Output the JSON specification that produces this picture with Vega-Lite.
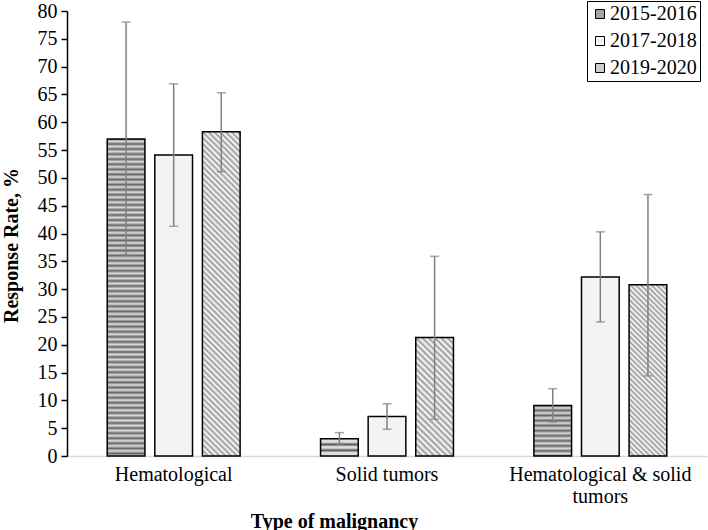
{
  "$schema": "https://vega.github.io/schema/vega-lite/v6.json",
  "autosize": "none",
  "width": 640,
  "height": 445,
  "padding": {"left": 67, "top": 11, "right": 1, "bottom": 74},
  "background": "white",
  "config": {
    "view": {"stroke": null},
    "font": "Liberation Serif"
  },
  "resolve": {"axis": {"y": "independent"}},
  "data": {
    "values": [
      {"type": "Hematological", "period": "2015-2016", "value": 57.0, "lo": 36.1, "hi": 78.0},
      {"type": "Hematological", "period": "2017-2018", "value": 54.1, "lo": 41.3, "hi": 66.9},
      {"type": "Hematological", "period": "2019-2020", "value": 58.3, "lo": 51.1, "hi": 65.3},
      {"type": "Solid tumors", "period": "2015-2016", "value": 3.1, "lo": 2.1, "hi": 4.2},
      {"type": "Solid tumors", "period": "2017-2018", "value": 7.1, "lo": 4.8, "hi": 9.4},
      {"type": "Solid tumors", "period": "2019-2020", "value": 21.3, "lo": 6.6, "hi": 35.9},
      {"type": "Hematological & solid tumors", "period": "2015-2016", "value": 9.1, "lo": 6.1, "hi": 12.1},
      {"type": "Hematological & solid tumors", "period": "2017-2018", "value": 32.2, "lo": 24.1, "hi": 40.3},
      {"type": "Hematological & solid tumors", "period": "2019-2020", "value": 30.8, "lo": 14.4, "hi": 47.0}
    ]
  },
  "encoding": {
    "x": {
      "field": "type",
      "type": "nominal",
      "sort": ["Hematological", "Solid tumors", "Hematological & solid tumors"],
      "scale": {"paddingInner": 0.377, "paddingOuter": 0.1885},
      "axis": {
        "title": "Type of malignancy",
        "titleFont": "Liberation Serif",
        "titleFontSize": 20,
        "titleFontWeight": "bold",
        "titleColor": "black",
        "titleX": 267,
        "titleY": 65,
        "titleAlign": "center",
        "titleBaseline": "middle",
        "labelAngle": 0,
        "labelFont": "Liberation Serif",
        "labelFontSize": 20,
        "labelColor": "black",
        "labelPadding": 8,
        "labelLineHeight": 22,
        "labelLimit": 400,
        "labelExpr": "datum.label == 'Hematological & solid tumors' ? ['Hematological & solid', 'tumors'] : datum.label",
        "ticks": false,
        "domainColor": "#d9d9d9",
        "domainWidth": 1.5
      }
    },
    "xOffset": {
      "field": "period",
      "type": "nominal",
      "scale": {"paddingInner": 0.208, "paddingOuter": 0}
    }
  },
  "layer": [
    {
      "mark": {"type": "bar", "stroke": "black", "strokeWidth": 1.5},
      "encoding": {
        "y": {
          "field": "value",
          "type": "quantitative",
          "scale": {"domain": [0, 80], "nice": false},
          "axis": {
            "title": "Response Rate, %",
            "titleFont": "Liberation Serif",
            "titleFontSize": 20,
            "titleFontWeight": "bold",
            "titleColor": "black",
            "titleX": -56,
            "titleY": 234,
            "titleAlign": "center",
            "titleBaseline": "middle",
            "titleAngle": -90,
            "values": [0, 5, 10, 15, 20, 25, 30, 35, 40, 45, 50, 55, 60, 65, 70, 75, 80],
            "labelOverlap": false,
            "labelFont": "Liberation Serif",
            "labelFontSize": 20,
            "labelColor": "black",
            "labelPadding": 4,
            "tickColor": "black",
            "tickSize": 6,
            "tickWidth": 1.5,
            "domainColor": "black",
            "domainWidth": 1.5,
            "grid": false
          }
        },
        "fill": {
          "condition": [
            {
              "test": "datum.period == '2015-2016' && datum.type == 'Hematological'",
              "value": {
                "gradient": "linear", "x1": 0, "y1": 0, "x2": 0, "y2": 1,
                "stops": [
                  {"offset": 0, "color": "#666"}, {"offset": 0.008, "color": "#ddd"}, {"offset": 0.016, "color": "#666"}, {"offset": 0.024, "color": "#ddd"}, {"offset": 0.032, "color": "#666"}, {"offset": 0.04, "color": "#ddd"}, {"offset": 0.048, "color": "#666"}, {"offset": 0.056, "color": "#ddd"}, {"offset": 0.064, "color": "#666"}, {"offset": 0.072, "color": "#ddd"},
                  {"offset": 0.08, "color": "#666"}, {"offset": 0.088, "color": "#ddd"}, {"offset": 0.096, "color": "#666"}, {"offset": 0.104, "color": "#ddd"}, {"offset": 0.112, "color": "#666"}, {"offset": 0.12, "color": "#ddd"}, {"offset": 0.128, "color": "#666"}, {"offset": 0.136, "color": "#ddd"}, {"offset": 0.144, "color": "#666"}, {"offset": 0.152, "color": "#ddd"},
                  {"offset": 0.16, "color": "#666"}, {"offset": 0.168, "color": "#ddd"}, {"offset": 0.176, "color": "#666"}, {"offset": 0.184, "color": "#ddd"}, {"offset": 0.192, "color": "#666"}, {"offset": 0.2, "color": "#ddd"}, {"offset": 0.208, "color": "#666"}, {"offset": 0.216, "color": "#ddd"}, {"offset": 0.224, "color": "#666"}, {"offset": 0.232, "color": "#ddd"},
                  {"offset": 0.24, "color": "#666"}, {"offset": 0.248, "color": "#ddd"}, {"offset": 0.256, "color": "#666"}, {"offset": 0.264, "color": "#ddd"}, {"offset": 0.272, "color": "#666"}, {"offset": 0.28, "color": "#ddd"}, {"offset": 0.288, "color": "#666"}, {"offset": 0.296, "color": "#ddd"}, {"offset": 0.304, "color": "#666"}, {"offset": 0.312, "color": "#ddd"},
                  {"offset": 0.32, "color": "#666"}, {"offset": 0.328, "color": "#ddd"}, {"offset": 0.336, "color": "#666"}, {"offset": 0.344, "color": "#ddd"}, {"offset": 0.352, "color": "#666"}, {"offset": 0.36, "color": "#ddd"}, {"offset": 0.368, "color": "#666"}, {"offset": 0.376, "color": "#ddd"}, {"offset": 0.384, "color": "#666"}, {"offset": 0.392, "color": "#ddd"},
                  {"offset": 0.4, "color": "#666"}, {"offset": 0.408, "color": "#ddd"}, {"offset": 0.416, "color": "#666"}, {"offset": 0.424, "color": "#ddd"}, {"offset": 0.432, "color": "#666"}, {"offset": 0.44, "color": "#ddd"}, {"offset": 0.448, "color": "#666"}, {"offset": 0.456, "color": "#ddd"}, {"offset": 0.464, "color": "#666"}, {"offset": 0.472, "color": "#ddd"},
                  {"offset": 0.48, "color": "#666"}, {"offset": 0.488, "color": "#ddd"}, {"offset": 0.496, "color": "#666"}, {"offset": 0.504, "color": "#ddd"}, {"offset": 0.512, "color": "#666"}, {"offset": 0.52, "color": "#ddd"}, {"offset": 0.528, "color": "#666"}, {"offset": 0.536, "color": "#ddd"}, {"offset": 0.544, "color": "#666"}, {"offset": 0.552, "color": "#ddd"},
                  {"offset": 0.56, "color": "#666"}, {"offset": 0.568, "color": "#ddd"}, {"offset": 0.576, "color": "#666"}, {"offset": 0.584, "color": "#ddd"}, {"offset": 0.592, "color": "#666"}, {"offset": 0.6, "color": "#ddd"}, {"offset": 0.608, "color": "#666"}, {"offset": 0.616, "color": "#ddd"}, {"offset": 0.624, "color": "#666"}, {"offset": 0.632, "color": "#ddd"},
                  {"offset": 0.64, "color": "#666"}, {"offset": 0.648, "color": "#ddd"}, {"offset": 0.656, "color": "#666"}, {"offset": 0.664, "color": "#ddd"}, {"offset": 0.672, "color": "#666"}, {"offset": 0.68, "color": "#ddd"}, {"offset": 0.688, "color": "#666"}, {"offset": 0.696, "color": "#ddd"}, {"offset": 0.704, "color": "#666"}, {"offset": 0.712, "color": "#ddd"},
                  {"offset": 0.72, "color": "#666"}, {"offset": 0.728, "color": "#ddd"}, {"offset": 0.736, "color": "#666"}, {"offset": 0.744, "color": "#ddd"}, {"offset": 0.752, "color": "#666"}, {"offset": 0.76, "color": "#ddd"}, {"offset": 0.768, "color": "#666"}, {"offset": 0.776, "color": "#ddd"}, {"offset": 0.784, "color": "#666"}, {"offset": 0.792, "color": "#ddd"},
                  {"offset": 0.8, "color": "#666"}, {"offset": 0.808, "color": "#ddd"}, {"offset": 0.816, "color": "#666"}, {"offset": 0.824, "color": "#ddd"}, {"offset": 0.832, "color": "#666"}, {"offset": 0.84, "color": "#ddd"}, {"offset": 0.848, "color": "#666"}, {"offset": 0.856, "color": "#ddd"}, {"offset": 0.864, "color": "#666"}, {"offset": 0.872, "color": "#ddd"},
                  {"offset": 0.88, "color": "#666"}, {"offset": 0.888, "color": "#ddd"}, {"offset": 0.896, "color": "#666"}, {"offset": 0.904, "color": "#ddd"}, {"offset": 0.912, "color": "#666"}, {"offset": 0.92, "color": "#ddd"}, {"offset": 0.928, "color": "#666"}, {"offset": 0.936, "color": "#ddd"}, {"offset": 0.944, "color": "#666"}, {"offset": 0.952, "color": "#ddd"},
                  {"offset": 0.96, "color": "#666"}, {"offset": 0.968, "color": "#ddd"}, {"offset": 0.976, "color": "#666"}, {"offset": 0.984, "color": "#ddd"}, {"offset": 0.992, "color": "#666"}, {"offset": 1, "color": "#ddd"}
                ]
              }
            },
            {
              "test": "datum.period == '2015-2016' && datum.type == 'Solid tumors'",
              "value": {
                "gradient": "linear", "x1": 0, "y1": 0, "x2": 0, "y2": 1,
                "stops": [
                  {"offset": 0, "color": "#ddd"}, {"offset": 0.2, "color": "#ddd"}, {"offset": 0.33, "color": "#555"}, {"offset": 0.46, "color": "#ddd"}, {"offset": 0.54, "color": "#ddd"}, {"offset": 0.67, "color": "#555"}, {"offset": 0.8, "color": "#ddd"}, {"offset": 1, "color": "#ddd"}
                ]
              }
            },
            {
              "test": "datum.period == '2015-2016' && datum.type == 'Hematological & solid tumors'",
              "value": {
                "gradient": "linear", "x1": 0, "y1": 0, "x2": 0, "y2": 1,
                "stops": [
                  {"offset": 0, "color": "#666"}, {"offset": 0.05, "color": "#ddd"}, {"offset": 0.1, "color": "#666"}, {"offset": 0.15, "color": "#ddd"}, {"offset": 0.2, "color": "#666"}, {"offset": 0.25, "color": "#ddd"}, {"offset": 0.3, "color": "#666"}, {"offset": 0.35, "color": "#ddd"}, {"offset": 0.4, "color": "#666"}, {"offset": 0.45, "color": "#ddd"},
                  {"offset": 0.5, "color": "#666"}, {"offset": 0.55, "color": "#ddd"}, {"offset": 0.6, "color": "#666"}, {"offset": 0.65, "color": "#ddd"}, {"offset": 0.7, "color": "#666"}, {"offset": 0.75, "color": "#ddd"}, {"offset": 0.8, "color": "#666"}, {"offset": 0.85, "color": "#ddd"}, {"offset": 0.9, "color": "#666"}, {"offset": 0.95, "color": "#ddd"},
                  {"offset": 1, "color": "#666"}
                ]
              }
            },
            {
              "test": "datum.period == '2019-2020' && datum.type == 'Hematological'",
              "value": {
                "gradient": "linear", "x1": 0, "y1": 1, "x2": 0.128, "y2": -0.101,
                "stops": [
                  {"offset": 0, "color": "#999"}, {"offset": 0.008, "color": "#fff"}, {"offset": 0.016, "color": "#999"}, {"offset": 0.024, "color": "#fff"}, {"offset": 0.032, "color": "#999"}, {"offset": 0.04, "color": "#fff"}, {"offset": 0.048, "color": "#999"}, {"offset": 0.056, "color": "#fff"}, {"offset": 0.064, "color": "#999"}, {"offset": 0.072, "color": "#fff"},
                  {"offset": 0.08, "color": "#999"}, {"offset": 0.088, "color": "#fff"}, {"offset": 0.096, "color": "#999"}, {"offset": 0.104, "color": "#fff"}, {"offset": 0.112, "color": "#999"}, {"offset": 0.12, "color": "#fff"}, {"offset": 0.128, "color": "#999"}, {"offset": 0.136, "color": "#fff"}, {"offset": 0.144, "color": "#999"}, {"offset": 0.152, "color": "#fff"},
                  {"offset": 0.16, "color": "#999"}, {"offset": 0.168, "color": "#fff"}, {"offset": 0.176, "color": "#999"}, {"offset": 0.184, "color": "#fff"}, {"offset": 0.192, "color": "#999"}, {"offset": 0.2, "color": "#fff"}, {"offset": 0.208, "color": "#999"}, {"offset": 0.216, "color": "#fff"}, {"offset": 0.224, "color": "#999"}, {"offset": 0.232, "color": "#fff"},
                  {"offset": 0.24, "color": "#999"}, {"offset": 0.248, "color": "#fff"}, {"offset": 0.256, "color": "#999"}, {"offset": 0.264, "color": "#fff"}, {"offset": 0.272, "color": "#999"}, {"offset": 0.28, "color": "#fff"}, {"offset": 0.288, "color": "#999"}, {"offset": 0.296, "color": "#fff"}, {"offset": 0.304, "color": "#999"}, {"offset": 0.312, "color": "#fff"},
                  {"offset": 0.32, "color": "#999"}, {"offset": 0.328, "color": "#fff"}, {"offset": 0.336, "color": "#999"}, {"offset": 0.344, "color": "#fff"}, {"offset": 0.352, "color": "#999"}, {"offset": 0.36, "color": "#fff"}, {"offset": 0.368, "color": "#999"}, {"offset": 0.376, "color": "#fff"}, {"offset": 0.384, "color": "#999"}, {"offset": 0.392, "color": "#fff"},
                  {"offset": 0.4, "color": "#999"}, {"offset": 0.408, "color": "#fff"}, {"offset": 0.416, "color": "#999"}, {"offset": 0.424, "color": "#fff"}, {"offset": 0.432, "color": "#999"}, {"offset": 0.44, "color": "#fff"}, {"offset": 0.448, "color": "#999"}, {"offset": 0.456, "color": "#fff"}, {"offset": 0.464, "color": "#999"}, {"offset": 0.472, "color": "#fff"},
                  {"offset": 0.48, "color": "#999"}, {"offset": 0.488, "color": "#fff"}, {"offset": 0.496, "color": "#999"}, {"offset": 0.504, "color": "#fff"}, {"offset": 0.512, "color": "#999"}, {"offset": 0.52, "color": "#fff"}, {"offset": 0.528, "color": "#999"}, {"offset": 0.536, "color": "#fff"}, {"offset": 0.544, "color": "#999"}, {"offset": 0.552, "color": "#fff"},
                  {"offset": 0.56, "color": "#999"}, {"offset": 0.568, "color": "#fff"}, {"offset": 0.576, "color": "#999"}, {"offset": 0.584, "color": "#fff"}, {"offset": 0.592, "color": "#999"}, {"offset": 0.6, "color": "#fff"}, {"offset": 0.608, "color": "#999"}, {"offset": 0.616, "color": "#fff"}, {"offset": 0.624, "color": "#999"}, {"offset": 0.632, "color": "#fff"},
                  {"offset": 0.64, "color": "#999"}, {"offset": 0.648, "color": "#fff"}, {"offset": 0.656, "color": "#999"}, {"offset": 0.664, "color": "#fff"}, {"offset": 0.672, "color": "#999"}, {"offset": 0.68, "color": "#fff"}, {"offset": 0.688, "color": "#999"}, {"offset": 0.696, "color": "#fff"}, {"offset": 0.704, "color": "#999"}, {"offset": 0.712, "color": "#fff"},
                  {"offset": 0.72, "color": "#999"}, {"offset": 0.728, "color": "#fff"}, {"offset": 0.736, "color": "#999"}, {"offset": 0.744, "color": "#fff"}, {"offset": 0.752, "color": "#999"}, {"offset": 0.76, "color": "#fff"}, {"offset": 0.768, "color": "#999"}, {"offset": 0.776, "color": "#fff"}, {"offset": 0.784, "color": "#999"}, {"offset": 0.792, "color": "#fff"},
                  {"offset": 0.8, "color": "#999"}, {"offset": 0.808, "color": "#fff"}, {"offset": 0.816, "color": "#999"}, {"offset": 0.824, "color": "#fff"}, {"offset": 0.832, "color": "#999"}, {"offset": 0.84, "color": "#fff"}, {"offset": 0.848, "color": "#999"}, {"offset": 0.856, "color": "#fff"}, {"offset": 0.864, "color": "#999"}, {"offset": 0.872, "color": "#fff"},
                  {"offset": 0.88, "color": "#999"}, {"offset": 0.888, "color": "#fff"}, {"offset": 0.896, "color": "#999"}, {"offset": 0.904, "color": "#fff"}, {"offset": 0.912, "color": "#999"}, {"offset": 0.92, "color": "#fff"}, {"offset": 0.928, "color": "#999"}, {"offset": 0.936, "color": "#fff"}, {"offset": 0.944, "color": "#999"}, {"offset": 0.952, "color": "#fff"},
                  {"offset": 0.96, "color": "#999"}, {"offset": 0.968, "color": "#fff"}, {"offset": 0.976, "color": "#999"}, {"offset": 0.984, "color": "#fff"}, {"offset": 0.992, "color": "#999"}, {"offset": 1, "color": "#fff"}
                ]
              }
            },
            {
              "test": "datum.period == '2019-2020' && datum.type == 'Solid tumors'",
              "value": {
                "gradient": "linear", "x1": 0, "y1": 1, "x2": 0.378, "y2": -0.196,
                "stops": [
                  {"offset": 0, "color": "#999"}, {"offset": 0.02, "color": "#fff"}, {"offset": 0.04, "color": "#999"}, {"offset": 0.06, "color": "#fff"}, {"offset": 0.08, "color": "#999"}, {"offset": 0.1, "color": "#fff"}, {"offset": 0.12, "color": "#999"}, {"offset": 0.14, "color": "#fff"}, {"offset": 0.16, "color": "#999"}, {"offset": 0.18, "color": "#fff"},
                  {"offset": 0.2, "color": "#999"}, {"offset": 0.22, "color": "#fff"}, {"offset": 0.24, "color": "#999"}, {"offset": 0.26, "color": "#fff"}, {"offset": 0.28, "color": "#999"}, {"offset": 0.3, "color": "#fff"}, {"offset": 0.32, "color": "#999"}, {"offset": 0.34, "color": "#fff"}, {"offset": 0.36, "color": "#999"}, {"offset": 0.38, "color": "#fff"},
                  {"offset": 0.4, "color": "#999"}, {"offset": 0.42, "color": "#fff"}, {"offset": 0.44, "color": "#999"}, {"offset": 0.46, "color": "#fff"}, {"offset": 0.48, "color": "#999"}, {"offset": 0.5, "color": "#fff"}, {"offset": 0.52, "color": "#999"}, {"offset": 0.54, "color": "#fff"}, {"offset": 0.56, "color": "#999"}, {"offset": 0.58, "color": "#fff"},
                  {"offset": 0.6, "color": "#999"}, {"offset": 0.62, "color": "#fff"}, {"offset": 0.64, "color": "#999"}, {"offset": 0.66, "color": "#fff"}, {"offset": 0.68, "color": "#999"}, {"offset": 0.7, "color": "#fff"}, {"offset": 0.72, "color": "#999"}, {"offset": 0.74, "color": "#fff"}, {"offset": 0.76, "color": "#999"}, {"offset": 0.78, "color": "#fff"},
                  {"offset": 0.8, "color": "#999"}, {"offset": 0.82, "color": "#fff"}, {"offset": 0.84, "color": "#999"}, {"offset": 0.86, "color": "#fff"}, {"offset": 0.88, "color": "#999"}, {"offset": 0.9, "color": "#fff"}, {"offset": 0.92, "color": "#999"}, {"offset": 0.94, "color": "#fff"}, {"offset": 0.96, "color": "#999"}, {"offset": 0.98, "color": "#fff"},
                  {"offset": 1, "color": "#999"}
                ]
              }
            },
            {
              "test": "datum.period == '2019-2020' && datum.type == 'Hematological & solid tumors'",
              "value": {
                "gradient": "linear", "x1": 0, "y1": 1, "x2": 0.254, "y2": -0.163,
                "stops": [
                  {"offset": 0, "color": "#999"}, {"offset": 0.0125, "color": "#fff"}, {"offset": 0.025, "color": "#999"}, {"offset": 0.0375, "color": "#fff"}, {"offset": 0.05, "color": "#999"}, {"offset": 0.0625, "color": "#fff"}, {"offset": 0.075, "color": "#999"}, {"offset": 0.0875, "color": "#fff"}, {"offset": 0.1, "color": "#999"}, {"offset": 0.1125, "color": "#fff"},
                  {"offset": 0.125, "color": "#999"}, {"offset": 0.1375, "color": "#fff"}, {"offset": 0.15, "color": "#999"}, {"offset": 0.1625, "color": "#fff"}, {"offset": 0.175, "color": "#999"}, {"offset": 0.1875, "color": "#fff"}, {"offset": 0.2, "color": "#999"}, {"offset": 0.2125, "color": "#fff"}, {"offset": 0.225, "color": "#999"}, {"offset": 0.2375, "color": "#fff"},
                  {"offset": 0.25, "color": "#999"}, {"offset": 0.2625, "color": "#fff"}, {"offset": 0.275, "color": "#999"}, {"offset": 0.2875, "color": "#fff"}, {"offset": 0.3, "color": "#999"}, {"offset": 0.3125, "color": "#fff"}, {"offset": 0.325, "color": "#999"}, {"offset": 0.3375, "color": "#fff"}, {"offset": 0.35, "color": "#999"}, {"offset": 0.3625, "color": "#fff"},
                  {"offset": 0.375, "color": "#999"}, {"offset": 0.3875, "color": "#fff"}, {"offset": 0.4, "color": "#999"}, {"offset": 0.4125, "color": "#fff"}, {"offset": 0.425, "color": "#999"}, {"offset": 0.4375, "color": "#fff"}, {"offset": 0.45, "color": "#999"}, {"offset": 0.4625, "color": "#fff"}, {"offset": 0.475, "color": "#999"}, {"offset": 0.4875, "color": "#fff"},
                  {"offset": 0.5, "color": "#999"}, {"offset": 0.5125, "color": "#fff"}, {"offset": 0.525, "color": "#999"}, {"offset": 0.5375, "color": "#fff"}, {"offset": 0.55, "color": "#999"}, {"offset": 0.5625, "color": "#fff"}, {"offset": 0.575, "color": "#999"}, {"offset": 0.5875, "color": "#fff"}, {"offset": 0.6, "color": "#999"}, {"offset": 0.6125, "color": "#fff"},
                  {"offset": 0.625, "color": "#999"}, {"offset": 0.6375, "color": "#fff"}, {"offset": 0.65, "color": "#999"}, {"offset": 0.6625, "color": "#fff"}, {"offset": 0.675, "color": "#999"}, {"offset": 0.6875, "color": "#fff"}, {"offset": 0.7, "color": "#999"}, {"offset": 0.7125, "color": "#fff"}, {"offset": 0.725, "color": "#999"}, {"offset": 0.7375, "color": "#fff"},
                  {"offset": 0.75, "color": "#999"}, {"offset": 0.7625, "color": "#fff"}, {"offset": 0.775, "color": "#999"}, {"offset": 0.7875, "color": "#fff"}, {"offset": 0.8, "color": "#999"}, {"offset": 0.8125, "color": "#fff"}, {"offset": 0.825, "color": "#999"}, {"offset": 0.8375, "color": "#fff"}, {"offset": 0.85, "color": "#999"}, {"offset": 0.8625, "color": "#fff"},
                  {"offset": 0.875, "color": "#999"}, {"offset": 0.8875, "color": "#fff"}, {"offset": 0.9, "color": "#999"}, {"offset": 0.9125, "color": "#fff"}, {"offset": 0.925, "color": "#999"}, {"offset": 0.9375, "color": "#fff"}, {"offset": 0.95, "color": "#999"}, {"offset": 0.9625, "color": "#fff"}, {"offset": 0.975, "color": "#999"}, {"offset": 0.9875, "color": "#fff"},
                  {"offset": 1, "color": "#999"}
                ]
              }
            }
          ],
          "field": "period",
          "type": "nominal",
          "scale": {"range": ["#a3a3a3", "#f3f3f3", "#cccccc"]},
          "legend": {
            "title": null,
            "orient": "none",
            "legendX": 520,
            "legendY": -10,
            "strokeColor": "black",
            "fillColor": "white",
            "padding": 3,
            "symbolType": "square",
            "symbolSize": 81,
            "symbolStrokeColor": "black",
            "symbolStrokeWidth": 1,
            "labelFont": "Liberation Serif",
            "labelFontSize": 20,
            "labelColor": "black",
            "rowPadding": 7,
            "labelOffset": 0
          }
        }
      }
    },
    {
      "mark": {"type": "rule", "color": "#808080", "strokeWidth": 1.5},
      "encoding": {
        "y": {"field": "lo", "type": "quantitative", "axis": null},
        "y2": {"field": "hi"}
      }
    },
    {
      "mark": {"type": "tick", "color": "#808080", "thickness": 1.5, "size": 9},
      "encoding": {"y": {"field": "lo", "type": "quantitative", "axis": null}}
    },
    {
      "mark": {"type": "tick", "color": "#808080", "thickness": 1.5, "size": 9},
      "encoding": {"y": {"field": "hi", "type": "quantitative", "axis": null}}
    }
  ]
}
